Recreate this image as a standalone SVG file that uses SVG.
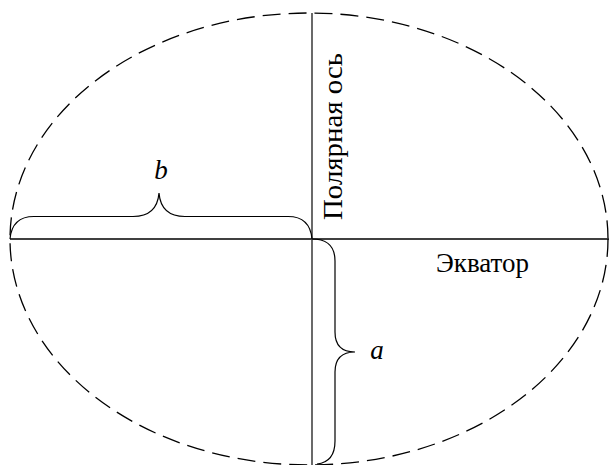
<svg xmlns="http://www.w3.org/2000/svg" width="609" height="465" viewBox="0 0 609 465">
<style>
.ell{fill:none;stroke:#000;stroke-width:1.3;stroke-dasharray:18 8}
.ln{fill:none;stroke:#000;stroke-width:1.3}
.ax{fill:none;stroke:#444;stroke-width:1.6}
.br{fill:none;stroke:#000;stroke-width:1.2}
text{font-family:'Liberation Serif','Times New Roman',serif;font-size:27px;fill:#000}
.i{font-style:italic}
</style>
<rect width="609" height="465" fill="#fff"/>
<g id="ellipse"><ellipse class="ell" cx="309" cy="239" rx="299" ry="226"/></g>
<g id="connectors">
<line class="ln" x1="10" y1="239" x2="609" y2="239"/>
<line class="ax" x1="312" y1="13" x2="312" y2="465"/>
<path class="br" d="M10,239 Q12,216.5 34,216.5 L133,216.5 Q157,216.5 159,193 Q161,216.5 185,216.5 L288,216.5 Q310,216.5 312,239"/>
<path class="br" d="M312,239 Q335,239 335,261 L335,332 Q335,352 355,352 Q335,352 335,372 L335,441 Q335,462 317,464"/>
</g>
<g id="label-b"><text class="i" x="161" y="179" text-anchor="middle">b</text></g>
<g id="label-a"><text class="i" x="377" y="359" text-anchor="middle">a</text></g>
<g id="label-equator"><text x="436" y="272" textLength="93" lengthAdjust="spacingAndGlyphs">Экватор</text></g>
<g id="label-polar"><text transform="translate(342,220) rotate(-90)" x="0" y="0" textLength="167" lengthAdjust="spacingAndGlyphs">Полярная ось</text></g>
</svg>
